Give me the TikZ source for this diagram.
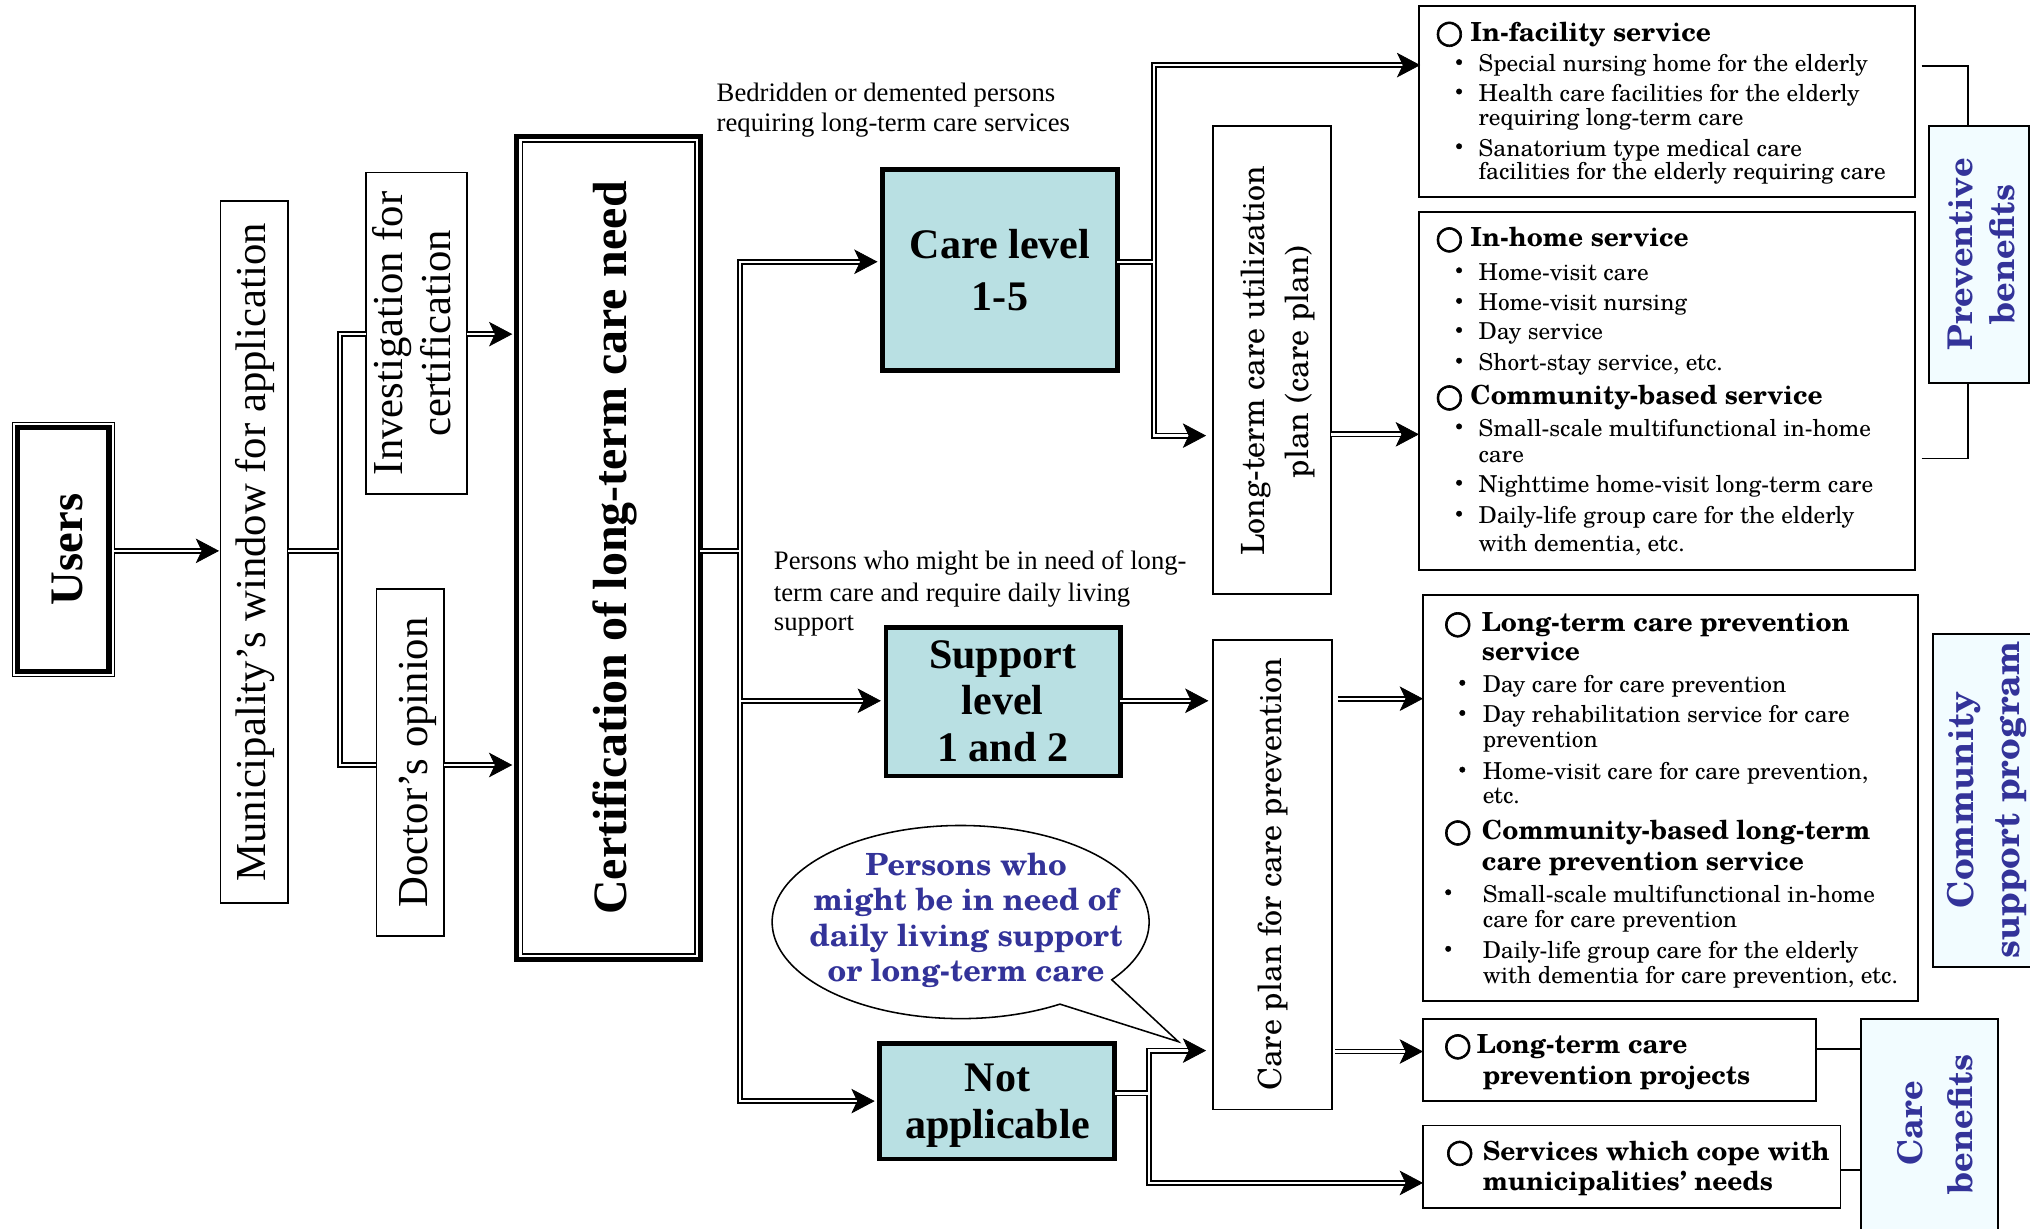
\documentclass[tikz,border=0pt]{standalone}
\usepackage{fontspec}
\setmainfont{Liberation Serif}
\newfontfamily\schola{TeX Gyre Schola}
\newfontfamily\symfont[FakeBold=2]{DejaVu Sans}
\newfontfamily\cjk[FakeBold=1.5]{Noto Sans CJK JP}
\usetikzlibrary{arrows.meta}
\definecolor{tealc}{HTML}{B9E0E3}
\definecolor{bluec}{HTML}{333399}
\definecolor{lblfill}{HTML}{F2FCFF}
\newcommand\fsz[2]{\fontsize{#1}{#2}\selectfont}
\newcommand\tipat[1]{\draw[tipst] ([xshift=-12pt]#1) -- (#1);}
\tikzset{
  box/.style={draw, line width=1.3pt, fill=white, inner sep=0pt, outer sep=0pt},
  thickbox/.style={draw, line width=3.9pt, fill=white, inner sep=0pt, outer sep=0pt},
  tealbox/.style={draw, line width=3.7pt, fill=tealc, inner sep=0pt, outer sep=0pt},
  lblbox/.style={draw, line width=1.8pt, fill=lblfill, inner sep=0pt, outer sep=0pt},
  dbl/.style={draw, double, double distance=1.8pt, line width=1.4pt, line join=miter},
  shaft/.style={dbl, shorten >=10pt},
  tipst/.style={-{Stealth[length=18pt,width=19pt,inset=4.5pt]}, line width=0.6pt},
  rtxt/.style={anchor=base, inner sep=0pt, rotate=90},
  htxt/.style={anchor=base, inner sep=0pt},
  ltxt/.style={anchor=base west, inner sep=0pt, font=\fsz{20.6}{24}},
  it/.style={anchor=base west, inner sep=0pt, font=\schola\fsz{18}{20}},
  hd/.style={anchor=base west, inner sep=0pt, font=\schola\bfseries\fsz{20.3}{24}},
  ci/.style={anchor=base, inner sep=0pt, font=\symfont\fsz{25}{26}},
  bu/.style={anchor=base, inner sep=0pt, text height=10pt, text depth=0pt, font=\cjk\fsz{20}{20}},
  bigb/.style={font=\bfseries\fsz{32.5}{36}},
  lbl/.style={font=\schola\bfseries\fsz{26.3}{30}, text=bluec},
  thinln/.style={line width=1.3pt}
}
\begin{document}
\begin{tikzpicture}[x=1pt,y=-1pt]
\useasboundingbox (0,0) rectangle (1568,949);
\fill[white] (0,0) rectangle (1568,949);

% ---------- connector junction coordinates ----------
\coordinate (jA) at (262.5,425.5);
\coordinate (jB) at (262.5,258.1);
\coordinate (jC) at (262.5,590.9);
\coordinate (jD) at (571.5,425.5);
\coordinate (jE) at (571.5,202.2);
\coordinate (jF) at (571.5,850.5);
\coordinate (jG) at (571.5,541.3);
\coordinate (jH) at (891.4,202.2);
\coordinate (jI) at (891.4,50.3);
\coordinate (jJ) at (891.4,336.5);
\coordinate (rK) at (1060,335.5);
\coordinate (rP) at (1060,539.7);
\coordinate (rQ) at (1060,812.2);
\coordinate (jL) at (887.7,844.5);
\coordinate (jM) at (887.7,811.5);
\coordinate (jN) at (887.7,913.7);

% ---------- brackets ----------
\coordinate (pbA) at (1484.3,50.8);
\coordinate (pbA2) at (1520,50.8);
\coordinate (pbB) at (1484.3,354.2);
\coordinate (pbB2) at (1520,354.2);
\coordinate (cbA) at (1420,810.3);
\coordinate (cbB) at (1430,903.6);

% ---------- boxes ----------
\node[thickbox, minimum width=70.7pt, minimum height=188.3pt] (users) at (48.85,424.35) {};
\draw[line width=1.2pt] ([shift={(-3.7,-4)}]users.north west) rectangle ([shift={(4.1,4)}]users.south east);
\node[box, minimum width=52.5pt, minimum height=542.2pt] (muni) at (196.45,426.6) {};
\node[box, minimum width=78pt, minimum height=248.3pt] (inv) at (321.7,257.45) {};
\node[box, minimum width=52.2pt, minimum height=268pt] (doc) at (316.9,588.8) {};
\node[thickbox, minimum width=141.8pt, minimum height=635.5pt] (cert) at (470.1,423.25) {};
\draw[line width=1.2pt] ([shift={(4.3,4.3)}]cert.north west) rectangle ([shift={(-4.3,-4.3)}]cert.south east);

\node[tealbox, minimum width=181.2pt, minimum height=155.4pt] (care) at (772.4,208.7) {};
\node[tealbox, minimum width=180.8pt, minimum height=114.9pt] (sup) at (774.8,542) {};
\node[tealbox, minimum width=181.5pt, minimum height=89.1pt] (notap) at (770.35,850.75) {};

\node[box, minimum width=91pt, minimum height=361.6pt] (ltc) at (982.6,278.1) {};
\node[box, minimum width=91.8pt, minimum height=362.5pt] (cpp) at (983,675.75) {};

\node[box, minimum width=383pt, minimum height=147.8pt] (fac) at (1287.5,78.3) {};
\node[box, minimum width=383pt, minimum height=276.5pt] (home) at (1287.5,302.25) {};
\node[box, minimum width=382.6pt, minimum height=313.3pt] (prev) at (1290.4,616.45) {};
\node[box, minimum width=303.8pt, minimum height=63.3pt] (proj) at (1251,818.55) {};
\node[box, minimum width=322.4pt, minimum height=63.6pt] (svc) at (1260.3,901.2) {};

\draw[thinln] (pbA) -- (pbA2) -- (pbA2 |- 0,97.5);
\draw[thinln] (pbB) -- (pbB2) -- (pbB2 |- 0,295.6);
\draw[thinln] (cbA -| proj.east) -- (cbA -| 1437.7,0);
\draw[thinln] (cbB -| svc.east) -- (cbB -| 1437.7,0);

\node[lblbox, minimum width=77pt, minimum height=198.1pt] (pb) at (1528.5,196.55) {};
\node[lblbox, minimum width=78.8pt, minimum height=257.4pt] (csp) at (1532.6,618.3) {};
\node[lblbox, minimum width=105.5pt, minimum height=173.1pt] (cb) at (1490.45,873.45) {};

% ---------- arrow end points ----------
\coordinate (e1) at ([xshift=-1pt]jA -| muni.west);
\coordinate (e2) at ([xshift=-3.5pt]jB -| cert.west);
\coordinate (e3) at ([xshift=-3.5pt]jC -| cert.west);
\coordinate (e4) at ([xshift=-4pt]jE -| care.west);
\coordinate (e5) at ([xshift=-4pt]jF -| notap.west);
\coordinate (e6) at ([xshift=-4pt]jG -| sup.west);
\coordinate (e7) at ([xshift=1pt]jI -| fac.west);
\coordinate (e8) at ([xshift=-5.5pt]jJ -| ltc.west);
\coordinate (e9) at (rK -| home.west);
\coordinate (e10) at ([xshift=-3.7pt]jG -| cpp.west);
\coordinate (e11) at (rP -| prev.west);
\coordinate (e12) at (rQ -| proj.west);
\coordinate (e13) at ([xshift=-5.5pt]jM -| cpp.west);
\coordinate (e14) at (jN -| svc.west);

% ---------- connectors ----------
\draw[shaft] ([xshift=4.1pt]jA -| users.east) -- (e1);
\draw[dbl] (jB -| inv.west) -- (jB) -- (jC) -- (jC -| doc.west);
\draw[dbl] (jA -| muni.east) -- ([xshift=-0.9pt]jA);
\draw[shaft] (jB -| inv.east) -- (e2);
\draw[shaft] (jC -| doc.east) -- (e3);

\draw[shaft] (jD) -- (jE) -- (e4);
\draw[shaft] (jD) -- (jF) -- (e5);
\draw[shaft] ([xshift=0.9pt]jG) -- (e6);
\draw[dbl] (jD -| cert.east) -- ([xshift=-0.9pt]jD);

\draw[shaft] (jH) -- (jI) -- (e7);
\draw[shaft] (jH) -- (jJ) -- (e8);
\draw[dbl] (jH -| care.east) -- ([xshift=-0.9pt]jH);
\draw[shaft] (rK -| ltc.east) -- (e9);

\draw[shaft] (jG -| sup.east) -- (e10);
\draw[shaft] ([xshift=4.5pt]rP -| cpp.east) -- (e11);
\draw[shaft] ([xshift=2.5pt]rQ -| cpp.east) -- (e12);

\draw[shaft] (jL) -- (jM) -- (e13);
\draw[shaft] (jL) -- (jN) -- (e14);
\draw[dbl] (jL -| notap.east) -- ([xshift=-0.9pt]jL);

\tipat{e1}\tipat{e2}\tipat{e3}\tipat{e4}\tipat{e5}\tipat{e6}\tipat{e7}
\tipat{e8}\tipat{e9}\tipat{e10}\tipat{e11}\tipat{e12}\tipat{e13}\tipat{e14}

% ---------- speech bubble ----------
\draw[line width=1.2pt, fill=white] (910.2,804.6) -- plot[domain=58.2:396.7, samples=160, variable=\t] ({742+145.6*cos(\t)},{712.2+74.6*sin(\t)}) -- cycle;
\node[htxt, font=\schola\bfseries\fsz{23.6}{27}, text=bluec] (bb1) at (746.2,676.4) {Persons who};
\node[htxt, font=\schola\bfseries\fsz{23.6}{27}, text=bluec] (bb2) at (746.2,703.5) {might be in need of};
\node[htxt, font=\schola\bfseries\fsz{23.6}{27}, text=bluec] (bb3) at (746.2,730.8) {daily living support};
\node[htxt, font=\schola\bfseries\fsz{23.6}{27}, text=bluec] (bb4) at (746.2,758.2) {or long-term care};

% ---------- left texts ----------
\node[rtxt, font=\bfseries\fsz{36}{40}] (userst) at (64,424.35) {Users};
\node[rtxt, font=\fsz{33}{36}] (munit) at (205,426.6) {Municipality’s window for application};
\node[rtxt, font=\fsz{33}{36}] (invt1) at (311,257.45) {Investigation for};
\node[rtxt, font=\fsz{33}{36}] (invt2) at (348,257.45) {certification};
\node[rtxt, font=\fsz{33}{36}] (doct) at (330,588.8) {Doctor’s opinion};
\node[rtxt, font=\bfseries\fsz{37}{40}] (certt) at (484,423.25) {Certification of long-term care need};

% ---------- teal texts ----------
\node[htxt, bigb] (caret1) at (772.4,199.4) {Care level};
\node[htxt, bigb] (caret2) at (772.4,239.5) {1-5};
\node[htxt, bigb] (supt1) at (774.5,516.6) {Support};
\node[htxt, bigb] (supt2) at (774.5,551.8) {level};
\node[htxt, bigb] (supt3) at (774.5,588.1) {1 and 2};
\node[htxt, bigb] (nott1) at (770.4,842.8) {Not};
\node[htxt, bigb] (nott2) at (770.4,879.1) {applicable};

% ---------- free labels ----------
\node[ltxt] (la1) at (553.4,78.1) {Bedridden or demented persons};
\node[ltxt] (la2) at (553.4,101.5) {requiring long-term care services};
\node[ltxt] (lb1) at (597.6,439.6) {Persons who might be in need of long-};
\node[ltxt] (lb2) at (597.6,464.3) {term care and require daily living};
\node[ltxt] (lb3) at (597.6,487) {support};

% ---------- plan texts ----------
\node[rtxt, font=\schola\fsz{24.7}{30}] (ltct1) at (976.6,278.6) {Long-term care utilization};
\node[rtxt, font=\schola\fsz{24.7}{30}] (ltct2) at (1010.4,279.5) {plan (care plan)};
\node[rtxt, font=\schola\fsz{24.7}{30}] (cppt) at (989.7,675.6) {Care plan for care prevention};

% ---------- label texts ----------
\node[rtxt, lbl] (pbt1) at (1523.6,196.6) {Preventive};
\node[rtxt, lbl] (pbt2) at (1556.3,196.6) {benefits};
\node[rtxt, lbl, font=\schola\bfseries\fsz{27.5}{30}] (cspt1) at (1524,618) {Community};
\node[rtxt, lbl, font=\schola\bfseries\fsz{27.5}{30}] (cspt2) at (1559.5,618) {support program};
\node[rtxt, lbl] (cbt1) at (1484.8,867.7) {Care};
\node[rtxt, lbl] (cbt2) at (1523.6,868.5) {benefits};

% ---------- in-facility ----------
\node[ci] (fc0) at (1119.5,33) {○};
\node[hd] (fh0) at (1135.5,31.9) {In-facility service};
\node[bu] (fb1) at (1127,55.6) {・};
\node[it] (fi1) at (1141.9,55.6) {Special nursing home for the elderly};
\node[bu] (fb2) at (1127,78.3) {・};
\node[it] (fi2) at (1141.9,78.3) {Health care facilities for the elderly};
\node[it] (fi3) at (1141.9,97) {requiring long-term care};
\node[bu] (fb4) at (1127,120.6) {・};
\node[it] (fi4) at (1141.9,120.6) {Sanatorium type medical care};
\node[it] (fi5) at (1141.9,139) {facilities for the elderly requiring care};

% ---------- in-home ----------
\node[ci] (hc0) at (1119.5,191.8) {○};
\node[hd] (hh0) at (1135.5,190.7) {In-home service};
\node[bu] (hb1) at (1127,216.4) {・};
\node[it] (hi1) at (1141.9,216.4) {Home-visit care};
\node[bu] (hb2) at (1127,240) {・};
\node[it] (hi2) at (1141.9,240) {Home-visit nursing};
\node[bu] (hb3) at (1127,262.5) {・};
\node[it] (hi3) at (1141.9,262.5) {Day service};
\node[bu] (hb4) at (1127,286.2) {・};
\node[it] (hi4) at (1141.9,286.2) {Short-stay service, etc.};
\node[ci] (hc5) at (1119.5,313.9) {○};
\node[hd] (hh5) at (1135.5,312.8) {Community-based service};
\node[bu] (hb6) at (1127,337) {・};
\node[it] (hi6) at (1141.9,337) {Small-scale multifunctional in-home};
\node[it] (hi7) at (1141.9,357.1) {care};
\node[bu] (hb8) at (1127,380.5) {・};
\node[it] (hi8) at (1141.9,380.5) {Nighttime home-visit long-term care};
\node[bu] (hb9) at (1127,404.4) {・};
\node[it] (hi9) at (1141.9,404.4) {Daily-life group care for the elderly};
\node[it] (hi10) at (1141.9,425.7) {with dementia, etc.};

% ---------- prevention ----------
\node[ci] (pc0) at (1126,489.1) {○};
\node[hd] (ph0) at (1144.5,488) {Long-term care prevention};
\node[hd] (ph1) at (1144.5,510.4) {service};
\node[bu] (pb2) at (1129.5,535) {・};
\node[it] (pi2) at (1145.1,535) {Day care for care prevention};
\node[bu] (pb3) at (1129.5,558.3) {・};
\node[it] (pi3) at (1145.1,558.3) {Day rehabilitation service for care};
\node[it] (pi4) at (1145.1,577.4) {prevention};
\node[bu] (pb5) at (1129.5,602.1) {・};
\node[it] (pi5) at (1145.1,602.1) {Home-visit care for care prevention,};
\node[it] (pi6) at (1145.1,620.6) {etc.};
\node[ci] (pc7) at (1126,649.9) {○};
\node[hd] (ph7) at (1144.5,648.8) {Community-based long-term};
\node[hd] (ph8) at (1144.5,672.5) {care prevention service};
\node[bu] (pb9) at (1118.6,696.8) {・};
\node[it] (pi9) at (1145.1,696.8) {Small-scale multifunctional in-home};
\node[it] (pi10) at (1145.1,716.6) {care for care prevention};
\node[bu] (pb11) at (1118.6,740.5) {・};
\node[it] (pi11) at (1145.1,740.5) {Daily-life group care for the elderly};
\node[it] (pi12) at (1145.1,759.8) {with dementia for care prevention, etc.};

% ---------- projects / services ----------
\node[ci] (jc0) at (1126,815.1) {○};
\node[hd] (jh0) at (1140.5,814) {Long-term care};
\node[hd] (jh1) at (1145.1,837.4) {prevention projects};
\node[ci] (sc0) at (1127.5,897.4) {○};
\node[hd] (sh0) at (1145.1,896.3) {Services which cope with};
\node[hd] (sh1) at (1145.1,919.6) {municipalities’ needs};
\end{tikzpicture}
\end{document}
